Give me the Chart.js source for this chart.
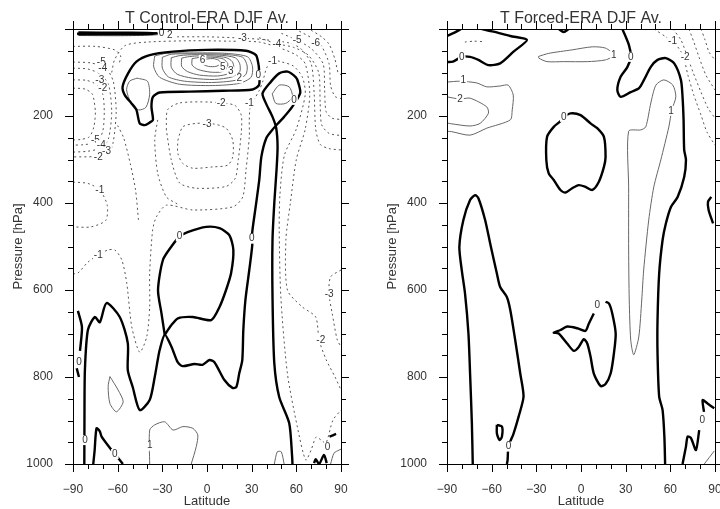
<!DOCTYPE html>
<html>
<head>
<meta charset="utf-8">
<script src="https://cdn.jsdelivr.net/npm/chart.js@4.4.1/dist/chart.umd.min.js"></script>
<style>
  html, body { margin: 0; padding: 0; background: #fff; overflow: hidden; width: 720px; height: 509px; }
  .panel { position: absolute; top: 0; width: 370px; height: 509px; }
</style>
</head>
<body>
<div class="panel" style="left:0"><canvas id="ctl"></canvas></div>
<div class="panel" style="left:374px"><canvas id="frc"></canvas></div>
<script>
// axis ticks
const latTicks = [-90, -60, -30, 0, 30, 60, 90]
const presTicks = [200, 400, 600, 800, 1000]

// ---- T Control-ERA: contour lines as [latitude, pressure] ----
const ctlZeroMain = [[-82.4,1000],[-82.3,899],[-82,784],[-80,692],[-75.3,662],[-72,674],[-67.5,630],[-58.6,662],[-53.2,722],[-53.2,784],[-49.9,823],[-45.2,876],[-38.5,853],[-35.1,800],[-33.1,761],[-31.8,738],[-28.4,703],[-23.8,731],[-19.7,766],[-16.4,775],[-8.4,770],[-3,772],[1.7,761],[5,766],[11.7,807],[17.1,825],[19.7,823],[21.7,791],[23.7,761],[24.4,692],[25.8,623],[28.4,554],[30.4,497],[30.4,467],[32.4,416],[35.1,347],[36.5,294],[39.8,251],[43.8,232],[48.5,214],[51.8,202],[57.2,179],[62.6,147],[61.2,122],[59.7,111],[54.1,98],[48.5,102],[43,121],[37.3,148],[39.6,171],[44,202],[46.5,228],[47.4,271],[46.7,324],[45.2,400],[44,485],[44,616],[45.2,768],[48.5,846],[55.2,906],[57.2,984],[57.4,1000]]
const ctlZeroOval = [[-28.4,703],[-30.6,653],[-32.9,600],[-29.6,531],[-23.9,500],[-18.4,477],[-13,467],[-0.5,455],[8.4,458],[15,474],[17.7,508],[16.2,561],[12.8,600],[8.4,639],[2.8,669],[-9.5,662],[-19.5,665],[-24,681],[-28.4,703]]
const ctlZeroC = [[34.7,83],[32.9,60],[26.2,50],[-0.5,48],[-22.9,52],[-38.5,60],[-47.4,75],[-53,102],[-56.7,133],[-55.2,152],[-50.7,171],[-47.4,186],[-45.2,217],[-41.8,221],[-38.5,215],[-36.3,209],[-37.3,179],[-36.3,156],[-31.8,146],[-11.7,144],[10.6,142],[30.6,139],[34.9,129],[35.2,106],[34.7,83]]
const ctlZeroTop = [[-86.4,8],[-60,8.5],[-40,9],[-32.9,10],[-40,11.5],[-60,12],[-86.4,12],[-86.4,8]]
const ctlZeroEdgeA = [[-86.7,648],[-84,685],[-85.3,740]]
const ctlZeroEdgeB = [[-87.5,780],[-86,800]]
const ctlZeroFoot = [[-76.4,1000],[-75.5,970],[-74.2,918],[-72,925],[-70.8,937],[-65.2,963],[-58.6,991],[-56.5,1000]]
const ctlZeroZig = [[71.9,998],[73,989],[75.3,1000],[78.6,979],[80.4,998]]
const ctlZeroTick = [[82.3,937],[86.7,931]]

const ctlPos1 = [[-35.1,62],[-35.8,87],[-31.8,111],[-18.4,127],[3.9,130],[21.7,125],[29.6,111],[30.6,87],[27.3,64],[12.8,56],[-11.7,55],[-27.4,56],[-35.1,62]]
const ctlPos2 = [[-30,65],[-30,90],[-26,110],[-15,120],[3,123],[19,118],[26,105],[27,85],[24,65],[10,58],[-10,57],[-24,58],[-30,65]]
const ctlPos3 = [[-24,66],[-24,88],[-20,104],[-10,113],[5,116],[17,110],[22,98],[22,80],[19,66],[8,60],[-8,59],[-18,61],[-24,66]]
const ctlPos4 = [[-17,67],[-17,86],[-13,98],[-5,106],[7,108],[15,102],[18,90],[17,75],[13,66],[4,62],[-7,62],[-13,64],[-17,67]]
const ctlPos5 = [[-10,68],[-10,83],[-6,93],[2,99],[9,99],[13,92],[14,80],[11,69],[4,65],[-4,65],[-10,68]]
const ctlPos6 = [[-3,70],[-3,80],[1,86],[6,86],[9,80],[8,72],[4,68],[-3,70]]
const ctlPosBulge = [[-47,113],[-40,120],[-38.5,150],[-41,180],[-46,186],[-51,170],[-54,140],[-52,120],[-47,113]]
const ctlPosTongue = [[43.8,149],[48.5,129],[55.2,133],[57.4,156],[52.9,171],[46.2,171],[43.8,149]]
const ctlPosEgg = [[-65.2,799],[-59.7,830],[-56.3,857],[-60.8,880],[-65.2,861],[-66.4,822],[-65.2,799]]
const ctlPosArch = [[-38.5,1000],[-38.5,922],[-35.1,910],[-28.4,903],[-22.8,922],[-16.2,914],[-9.5,918],[-6.2,933],[-7.2,960],[-10.6,1000]]
const ctlPosSurf = [[45.2,1000],[47.2,972],[49.9,972],[51.8,1000]]
const ctlPosCorner = [[83,1000],[85.3,975],[88.7,968],[90,966]]
const ctlPosBand = [[-86,15],[-60,15.5],[-40,14.5],[-30,12.5]]

const ctlNeg1 = [[-90,563],[-86.7,561],[-80,536],[-73.3,520],[-66.6,508],[-61.9,508],[-57.2,531],[-53.9,584],[-50.5,685],[-45.2,743],[-40.5,708],[-38.5,639],[-38.5,561],[-36.5,462],[-34,432],[-27.3,405],[-9.5,416],[17.3,409],[24,386],[26.2,324],[28.4,248],[28.4,209],[29,180],[32,160],[35,142],[37.5,120],[40,90],[43.8,72],[50.5,76],[58,85],[64,110],[66,150],[60,230],[52,290],[49,380],[48.5,462],[49.6,616],[54,792],[60.7,915],[66.3,991],[69.9,968],[73.3,938],[76.6,945],[79.9,952],[84.6,899],[90,876]]
const ctlNeg2 = [[-64,100],[-62,70],[-55,38],[-40,30],[-10,27],[15,28],[35,30],[50,45],[60,60],[66,80],[69,150],[66,230],[60,300],[56,400],[53,485],[54,600],[64,639],[73,662],[75.3,715],[80,760],[86,800],[90,830]]
const ctlNeg3 = [[-20,18],[0,18],[24,21],[40,25],[55,32],[63,45],[70,80],[72,150],[73,230],[76,265],[82,275],[90,278]]
const ctlNeg4 = [[35,20],[47,34],[58,42],[68,60],[75,100],[76,170],[77,220],[82,240],[90,245]]
const ctlNeg5 = [[50,10],[60,25],[70,45],[78,80],[79,140],[80,190],[84,205],[90,208]]
const ctlNeg6 = [[62,5],[70,20],[77,40],[82,80],[83,130],[86,155],[90,160]]
const ctlNeg7 = [[70,3],[77,18],[82,35],[86,70],[88,100],[90,105]]
const ctlNegLoop2 = [[-27.3,232],[-26.5,186],[-18.4,170],[1.7,168],[18.4,175],[23,198],[23,239],[21,301],[19,343],[12.8,362],[-7.3,366],[-18.4,354],[-24,301],[-27.3,232]]
const ctlNegLoop3 = [[-19.6,256],[-16.3,225],[-7.3,217],[3.9,218],[12.8,228],[17.3,256],[17.3,294],[13.9,313],[3.9,317],[-9.6,320],[-16.3,309],[-19.6,286],[-19.6,256]]
const ctlNegSemi2 = [[-90,76],[-78,78],[-68,90],[-63,120],[-61,190],[-63,260],[-66,285],[-75,293],[-90,294]]
const ctlNegSemi3 = [[-90,90],[-80,92],[-71,105],[-66,130],[-64,190],[-66,250],[-70,272],[-80,281],[-90,283]]
const ctlNegSemi4 = [[-90,117],[-81,118],[-74,128],[-70,150],[-69,190],[-70,235],[-74,260],[-83,266],[-90,267]]
const ctlNegSemi5 = [[-90,136],[-82,138],[-77,150],[-75,190],[-76,225],[-79,248],[-85,254],[-90,255]]
const ctlNegLeft1 = [[-90,352],[-80,355],[-72,370],[-67,405],[-68,440],[-78,455],[-90,455]]
const ctlNegMid = [[-33.1,209],[-35.1,255],[-33.1,332],[-27.3,386],[-20,402]]
const ctlNegMid2 = [[-60,222],[-56,250],[-51.5,310],[-48,370],[-46,440]]
const ctlNegTopLeft = [[-90,40],[-75,40],[-62,48],[-58,62],[-59,80]]
const ctlNegEdge3 = [[90,554],[83,570],[81.9,608],[84.1,654],[87.5,715],[90,730]]

// ---- T Forced-ERA ----
const frcZeroCorner = [[-90,16],[-85.3,9],[-80.6,0]]
const frcZeroTop = [[-90,76],[-86,75],[-80.1,64],[-74.5,64],[-68.9,71],[-62.2,83],[-54.3,79],[-45.3,52],[-36.3,25],[-47.5,16],[-58.8,6],[-66.6,0]]
const frcZeroNotch = [[-15,0],[-11.6,7],[-8.2,0]]
const frcZeroRight = [[27.8,0],[32.2,37],[33.4,64],[31.2,87],[26.6,110],[24.4,140],[26.6,156],[33.4,145],[39,136],[42.3,117],[46.9,87],[51.4,71],[57,67],[62.6,79],[67.1,117],[68.2,156],[68.9,209],[69.3,278],[70.5,301],[69.3,340],[64.9,386],[60.4,409],[57,447],[54.8,485],[52.5,562],[51.4,669],[51.4,746],[52.5,845],[54.8,876],[56,937],[56.5,1000]]
const frcZeroApple = [[-11.6,202],[-7.1,194],[-0.3,198],[6.4,217],[10.9,228],[15.4,248],[16.5,294],[15.4,317],[12,351],[7.6,370],[3,363],[-1.5,359],[-5.9,366],[-10.4,376],[-13.8,370],[-18.3,347],[-21.7,332],[-23.3,301],[-22.8,248],[-18.3,225],[-13.8,212],[-11.6,202]]
const frcZeroLeft = [[-72.7,1000],[-73.3,906],[-74.5,792],[-75.6,700],[-77.9,608],[-80.1,554],[-81.7,501],[-79,439],[-74.5,393],[-71.1,382],[-68.9,389],[-64.4,439],[-61,493],[-56.5,562],[-54.3,593],[-49.8,616],[-47.5,646],[-44.2,715],[-40.8,792],[-38.6,845],[-41.9,891],[-45.3,930],[-48.7,960],[-49.3,991],[-49.8,1000]]
const frcZeroBlob = [[-56.5,910],[-53.1,914],[-53.1,937],[-54.7,945],[-56.5,930],[-56.5,910]]
const frcZeroMid = [[8.6,654],[5.3,677],[3,694],[-2.5,688],[-9.3,684],[-13.8,692],[-18.3,698],[-15,700],[-9.3,723],[-4.8,740],[-1.5,731],[1.9,713],[4.2,723],[6.4,753],[8.6,792],[13.2,821],[16.5,816],[19.9,792],[22.1,746],[23.3,700],[21,654],[18.8,631],[16.5,627]]
const frcZeroEdge = [[87.5,386],[85.3,397],[85.7,416],[88.7,447]]
const frcZeroSeven = [[89.5,872],[85,861],[81.7,853],[82.6,880]]
const frcZeroZ = [[79.4,922],[77.2,968],[73.8,940],[71.6,937],[70.5,960],[68.2,1000]]

const frcPosTop = [[-28.5,63],[-21.7,56],[-6,48],[7.6,41],[16.5,44],[22.1,60],[16.5,71],[4.2,75],[-11.6,75],[-22.8,75],[-28.3,67],[-28.5,63]]
const frcPos1Left = [[-90,122],[-81.2,120],[-70,124],[-63.3,133],[-54.3,131],[-48.9,129],[-45.5,152],[-46.2,186],[-47.5,209],[-63.3,228],[-74.5,244],[-86.8,236],[-90,235]]
const frcPos2Left = [[-90,156],[-81.2,161],[-74.5,159],[-63.3,179],[-62.2,194],[-67.8,217],[-74.5,223],[-86.8,218],[-90,216]]
const frcPosRight = [[32,363],[32,235],[40.1,232],[43.5,225],[46.9,170],[50.3,129],[55.6,117],[61.7,129],[63.7,156],[61,186],[59,225],[53.6,301],[48.9,363],[45.5,439],[42.1,554],[40.8,623],[38.8,708],[35.4,749],[33.4,715],[32.4,623],[32,508],[32,363]]
const frcPosCorner = [[82.8,1000],[89.5,970]]

const frcNeg1 = [[49.1,0],[57,18],[62.4,30],[68.4,60],[71.8,106],[75.8,152],[80.6,198],[84.6,237],[90,267]]
const frcNeg2 = [[61.7,0],[67.1,25],[71.1,60],[75.2,99],[80.6,145],[85.3,182],[90,205]]
const frcNeg3 = [[72.5,0],[75.8,30],[79.2,64],[83.9,106],[90,140]]
const frcNeg4 = [[80.6,0],[83.3,25],[86,53],[90,71]]
const frcNegBit = [[-78,30],[-72,28],[-66,29]]

// contour labels: [text, latitude, pressure]
const ctlLabels = [['0',-30.5,10],['2',-25,14],['-3',23.8,21],['-4',47,34],['-5',60.5,25],['-6',73,32],
  ['6',-3,71],['5',10.6,87],['3',16,98],['2',21.7,113],['0',34.5,106],
  ['-5',-71,76],['-4',-70,90],['-3',-72,117],['-2',-70,136],
  ['-5',-75,255],['-4',-71,267],['-3',-67.5,282],['-2',-73,294],
  ['-1',-72,370],['-1',-73,520],['-2',9.5,170],['-3',0,219],['-1',28.5,171],['-1',44,73],
  ['0',58.5,163],['0',-18.4,477],['0',30,482],['0',-86,766],['0',-82,945],['0',-61.9,977],['0',81,961],
  ['1',-38.5,958],['-3',82,610],['-2',76.4,715]]
const frcLabels = [['0',-80.1,64],['1',-79,117],['2',-81.2,162],['1',22.1,60],['0',33.4,64],['0',-11.6,202],
  ['1',60.5,188],['-1',61.5,29],['-2',70,65],['0',10.9,635],['0',-48.7,960],['0',81.4,899]]

const STYLE = {
  zero: { color: "#000", width: 2.4, dash: [] },
  pos: { color: "#666", width: 1, dash: [] },
  neg: { color: "#555", width: 1, dash: [2, 3] },
}

const ctlLines = [
  [ctlZeroMain, "zero"], [ctlZeroOval, "zero"], [ctlZeroC, "zero"], [ctlZeroTop, "zero"],
  [ctlZeroEdgeA, "zero"], [ctlZeroEdgeB, "zero"], [ctlZeroFoot, "zero"], [ctlZeroZig, "zero"], [ctlZeroTick, "zero"],
  [ctlPos1, "pos"], [ctlPos2, "pos"], [ctlPos3, "pos"], [ctlPos4, "pos"], [ctlPos5, "pos"], [ctlPos6, "pos"],
  [ctlPosBulge, "pos"], [ctlPosTongue, "pos"], [ctlPosEgg, "pos"], [ctlPosArch, "pos"], [ctlPosSurf, "pos"],
  [ctlPosCorner, "pos"], [ctlPosBand, "pos"],
  [ctlNeg1, "neg"], [ctlNeg2, "neg"], [ctlNeg3, "neg"], [ctlNeg4, "neg"], [ctlNeg5, "neg"], [ctlNeg6, "neg"], [ctlNeg7, "neg"],
  [ctlNegLoop2, "neg"], [ctlNegLoop3, "neg"], [ctlNegSemi2, "neg"], [ctlNegSemi3, "neg"], [ctlNegSemi4, "neg"], [ctlNegSemi5, "neg"],
  [ctlNegLeft1, "neg"], [ctlNegMid, "neg"], [ctlNegMid2, "neg"], [ctlNegTopLeft, "neg"], [ctlNegEdge3, "neg"],
]
const frcLines = [
  [frcZeroCorner, "zero"], [frcZeroTop, "zero"], [frcZeroNotch, "zero"], [frcZeroRight, "zero"], [frcZeroApple, "zero"],
  [frcZeroLeft, "zero"], [frcZeroBlob, "zero"], [frcZeroMid, "zero"], [frcZeroEdge, "zero"], [frcZeroSeven, "zero"], [frcZeroZ, "zero"],
  [frcPosTop, "pos"], [frcPos1Left, "pos"], [frcPos2Left, "pos"], [frcPosRight, "pos"], [frcPosCorner, "pos"],
  [frcNeg1, "neg"], [frcNeg2, "neg"], [frcNeg3, "neg"], [frcNeg4, "neg"], [frcNegBit, "neg"],
]

const FONT = { family: "'Liberation Sans', Arial, sans-serif", size: 12 }
const TITLE_FONT = { family: "'Liberation Sans', Arial, sans-serif", size: 13 }
const INK = "#333"

// box, minor/major ticks, title and contour labels
const frame = {
  id: "frame",
  afterDatasetsDraw(chart, args, opts) {
    const { ctx, chartArea: a, scales: { x, y } } = chart
    ctx.save()
    ctx.font = "10px 'Liberation Sans', Arial, sans-serif"
    ctx.textAlign = "center"
    ctx.textBaseline = "middle"
    opts.labels.forEach(([t, lat, p]) => {
      const px = x.getPixelForValue(lat)
      const py = y.getPixelForValue(p)
      const w = ctx.measureText(t).width + 2
      ctx.fillStyle = "#fff"
      ctx.fillRect(px - w / 2, py - 5, w, 10)
      ctx.fillStyle = INK
      ctx.fillText(t, px, py)
    })

    ctx.strokeStyle = "#000"
    ctx.lineWidth = 1
    ctx.strokeRect(a.left + 0.5, a.top + 0.5, a.right - a.left, a.bottom - a.top)
    ctx.beginPath()
    for (let v = -90; v <= 90; v += 10) {
      const px = Math.round(x.getPixelForValue(v)) + 0.5
      const len = v % 30 ? 5 : 8
      ctx.moveTo(px, a.bottom); ctx.lineTo(px, a.bottom + len)
      ctx.moveTo(px, a.top); ctx.lineTo(px, a.top - len)
    }
    for (let v = 0; v <= 1000; v += 50) {
      const py = Math.round(y.getPixelForValue(v)) + 0.5
      const len = v % 200 ? 5 : 8
      ctx.moveTo(a.left, py); ctx.lineTo(a.left - len, py)
      ctx.moveTo(a.right, py); ctx.lineTo(a.right + len, py)
    }
    ctx.stroke()

    ctx.font = "16px 'Liberation Sans', Arial, sans-serif"
    ctx.textBaseline = "alphabetic"
    ctx.fillStyle = INK
    ctx.fillText(opts.title, (a.left + a.right) / 2, 23)
    ctx.restore()
  },
}

function makePanel(id, title, lines, labels) {
  return new Chart(document.getElementById(id), {
    type: "scatter",
    data: {
      datasets: lines.map(([pts, kind]) => ({
        data: pts.map(([lat, p]) => ({ x: lat, y: p })),
        showLine: true,
        pointRadius: 0,
        tension: 0.25,
        borderColor: STYLE[kind].color,
        borderWidth: STYLE[kind].width,
        borderDash: STYLE[kind].dash,
      })),
    },
    options: {
      responsive: true,
      maintainAspectRatio: false,
      animation: false,
      events: [],
      layout: { padding: { top: 29, right: 29, left: 0, bottom: 0 } },
      plugins: {
        legend: { display: false },
        tooltip: { enabled: false },
        frame: { title, labels },
      },
      scales: {
        x: {
          type: "linear",
          min: -90,
          max: 90,
          afterBuildTicks: (s) => { s.ticks = latTicks.map((v) => ({ value: v })) },
          afterFit: (s) => { s.height = 45 },
          grid: { display: false },
          border: { display: false },
          ticks: {
            autoSkip: false,
            maxRotation: 0,
            padding: 10,
            font: FONT,
            color: INK,
            callback: (v) => String(v).replace("-", "\u2212"),
          },
          title: { display: true, text: "Latitude", font: TITLE_FONT, color: INK, padding: { top: 0, bottom: 0 } },
        },
        y: {
          type: "linear",
          reverse: true,
          min: 0,
          max: 1000,
          afterBuildTicks: (s) => { s.ticks = presTicks.map((v) => ({ value: v })) },
          afterFit: (s) => { s.width = 73 },
          grid: { display: false },
          border: { display: false },
          ticks: { autoSkip: false, padding: 12, font: FONT, color: INK, callback: (v) => String(v) },
          title: { display: true, text: "Pressure [hPa]", font: TITLE_FONT, color: INK, padding: { top: 11, bottom: 0 } },
        },
      },
    },
    plugins: [frame],
  })
}

makePanel("ctl", "T Control-ERA DJF Av.", ctlLines, ctlLabels)
makePanel("frc", "T Forced-ERA DJF Av.", frcLines, frcLabels)
</script>
</body>
</html>
